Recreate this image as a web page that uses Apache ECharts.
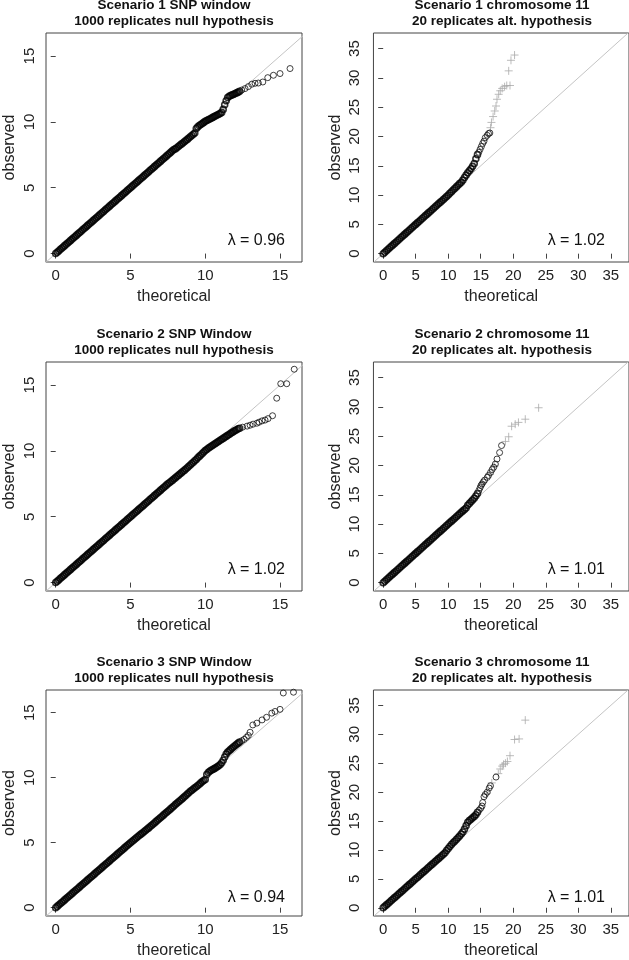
<!DOCTYPE html>
<html><head><meta charset="utf-8">
<script src="https://cdn.jsdelivr.net/npm/echarts@6/dist/echarts.min.js"></script>
<style>html,body{margin:0;padding:0;background:#fff}#c{width:629px;height:960px}</style>
</head><body><div id="c"></div>
<script>
// ---------- data ----------
const panelTitles = [
  ["Scenario 1 SNP window", "1000 replicates null hypothesis"],
  ["Scenario 1 chromosome 11", "20 replicates alt. hypothesis"],
  ["Scenario 2 SNP Window", "1000 replicates null hypothesis"],
  ["Scenario 2 chromosome 11", "20 replicates alt. hypothesis"],
  ["Scenario 3 SNP Window", "1000 replicates null hypothesis"],
  ["Scenario 3 chromosome 11", "20 replicates alt. hypothesis"]
];
const lambdas = ["0.96", "1.02", "1.02", "1.01", "0.94", "1.01"];
const ticksLeft = [0, 5, 10, 15];
const ticksRight = [0, 5, 10, 15, 20, 25, 30, 35];

// dense part, null-hypothesis panels (theoretical -log10 p)
const theoLeft = [0,0.1,0.2,0.3,0.4,0.5,0.6,0.7,0.8,0.9,1,1.1,1.2,1.3,1.4,1.5,1.6,1.7,1.8,1.9,2,2.1,2.2,2.3,2.4,2.5,2.6,2.7,2.8,2.9,3,3.1,3.2,3.3,3.4,3.5,3.6,3.7,3.8,3.9,4,4.1,4.2,4.3,4.4,4.5,4.6,4.7,4.8,4.9,5,5.1,5.2,5.3,5.4,5.5,5.6,5.7,5.8,5.9,6,6.1,6.2,6.3,6.4,6.5,6.6,6.7,6.8,6.9,7,7.1,7.2,7.3,7.4,7.5,7.6,7.7,7.8,7.9,8,8.1,8.2,8.3,8.4,8.5,8.6,8.7,8.8,8.9,9,9.1,9.2,9.3,9.4,9.5,9.6,9.7,9.8,9.9,10,10.1,10.2,10.3,10.4,10.5,10.6,10.7,10.8,10.9,11,11.1,11.2,11.3,11.4,11.5,11.6,11.7,11.8,11.9,12,12.1,12.2,12.3];
const obsLeft1 = [0,0.1,0.2,0.3,0.4,0.5,0.6,0.7,0.8,0.9,1,1.1,1.2,1.3,1.4,1.5,1.6,1.7,1.8,1.9,2,2.1,2.2,2.3,2.4,2.5,2.6,2.7,2.8,2.9,3,3.1,3.2,3.3,3.4,3.5,3.6,3.7,3.8,3.9,4,4.1,4.2,4.3,4.4,4.5,4.6,4.7,4.8,4.9,5,5.1,5.2,5.3,5.4,5.5,5.6,5.7,5.8,5.9,6,6.1,6.2,6.3,6.4,6.5,6.6,6.7,6.8,6.9,7,7.1,7.2,7.3,7.4,7.5,7.6,7.7,7.8,7.9,7.95,8.04,8.13,8.22,8.31,8.4,8.49,8.58,8.67,8.77,8.87,8.97,9.06,9.15,9.5,9.62,9.72,9.8,9.88,9.96,10.04,10.1,10.16,10.22,10.28,10.34,10.4,10.46,10.52,10.58,10.64,10.72,10.95,11.3,11.6,11.85,11.95,12,12.05,12.1,12.15,12.2,12.26,12.32];
const obsLeft2 = [0,0.1,0.2,0.3,0.4,0.5,0.6,0.7,0.8,0.9,1,1.1,1.2,1.3,1.4,1.5,1.6,1.7,1.8,1.9,2,2.1,2.2,2.3,2.4,2.5,2.6,2.7,2.8,2.9,3,3.1,3.2,3.3,3.4,3.5,3.6,3.7,3.8,3.9,4,4.1,4.2,4.3,4.4,4.5,4.6,4.7,4.8,4.9,5,5.1,5.2,5.3,5.4,5.5,5.6,5.7,5.8,5.9,6,6.1,6.2,6.3,6.4,6.5,6.6,6.7,6.8,6.9,7,7.1,7.2,7.3,7.4,7.5,7.58,7.67,7.76,7.86,7.95,8.05,8.14,8.24,8.33,8.43,8.52,8.62,8.72,8.83,8.93,9.04,9.14,9.25,9.35,9.47,9.58,9.69,9.8,9.91,10.02,10.11,10.2,10.28,10.35,10.43,10.5,10.58,10.65,10.73,10.8,10.88,10.95,11.03,11.1,11.18,11.25,11.33,11.4,11.48,11.55,11.61,11.68,11.72];
const obsLeft3 = [0,0.1,0.2,0.3,0.4,0.5,0.6,0.7,0.8,0.9,1,1.1,1.2,1.3,1.4,1.5,1.6,1.7,1.8,1.9,2,2.1,2.2,2.3,2.4,2.5,2.6,2.7,2.8,2.9,3,3.1,3.2,3.3,3.4,3.5,3.6,3.7,3.8,3.9,4,4.1,4.2,4.3,4.4,4.5,4.6,4.7,4.8,4.9,5,5.09,5.19,5.28,5.38,5.47,5.57,5.66,5.75,5.84,5.93,6.03,6.12,6.22,6.32,6.42,6.52,6.62,6.72,6.82,6.92,7.02,7.12,7.22,7.32,7.42,7.52,7.62,7.72,7.82,7.93,8.03,8.13,8.23,8.33,8.43,8.53,8.63,8.74,8.84,8.95,9.04,9.13,9.22,9.31,9.4,9.5,9.6,9.7,9.78,9.86,10.25,10.4,10.5,10.58,10.63,10.7,10.76,10.84,10.92,11.02,11.15,11.35,11.6,11.82,11.98,12.08,12.18,12.28,12.38,12.48,12.57,12.66,12.74];

// upper tails, null-hypothesis panels
const tailTheo1 = [12.44,12.66,12.88,13.11,13.33,13.55,13.85,14.18,14.56,15.0,15.67];
const tailObs1  = [12.42,12.53,12.68,12.86,12.93,12.95,13.03,13.36,13.54,13.67,14.05];
const tailTheo2 = [12.5,12.8,13.0,13.2,13.45,13.6,13.8,14.0,14.2,14.5,14.78,15.05,15.45,15.95];
const tailObs2  = [11.8,11.88,11.95,12.03,12.1,12.18,12.28,12.34,12.45,12.67,14.0,15.1,15.1,16.2];
const tailTheo3 = [12.45,12.6,12.75,12.88,13.0,13.18,13.45,13.8,14.1,14.45,14.67,15.0,15.22,15.9];
const tailObs3  = [12.85,12.95,13.1,13.25,13.5,14.06,14.2,14.45,14.65,14.97,15.1,15.26,16.52,16.58];

// dense part, chromosome 11 panels
const theoRight = [0,0.25,0.5,0.75,1,1.25,1.5,1.75,2,2.25,2.5,2.75,3,3.25,3.5,3.75,4,4.25,4.5,4.75,5,5.25,5.5,5.75,6,6.25,6.5,6.75,7,7.25,7.5,7.75,8,8.25,8.5,8.75,9,9.25,9.5,9.75,10,10.25,10.5,10.75,11,11.25,11.5,11.75,12,12.25,12.5,12.75,13,13.25,13.5,13.75,14,14.25,14.5];
const obsRight1 = [0,0.25,0.5,0.75,1,1.25,1.5,1.75,2,2.25,2.5,2.75,3,3.25,3.5,3.75,4,4.25,4.5,4.75,5,5.25,5.5,5.75,6,6.25,6.5,6.75,7,7.25,7.5,7.75,8,8.25,8.5,8.75,9,9.25,9.5,9.75,10.02,10.3,10.58,10.85,11.12,11.4,11.68,11.95,12.2,12.55,13.0,13.4,13.8,14.15,14.5,14.9,15.4,16.2,16.9];
const obsRight2 = [0,0.25,0.5,0.75,1,1.25,1.5,1.75,2,2.25,2.5,2.75,3,3.25,3.5,3.75,4,4.25,4.5,4.75,5,5.25,5.5,5.75,6,6.25,6.5,6.75,7,7.25,7.5,7.75,8,8.25,8.5,8.75,9,9.25,9.5,9.75,10,10.25,10.5,10.75,11,11.25,11.5,11.75,12,12.25,12.5,12.75,13.2,13.5,13.8,14.1,14.4,14.8,15.2];
const obsRight3 = [0,0.25,0.5,0.75,1,1.25,1.5,1.75,2,2.25,2.5,2.75,3,3.25,3.5,3.75,4,4.25,4.5,4.75,5,5.25,5.5,5.75,6,6.25,6.5,6.75,7,7.25,7.5,7.75,8,8.25,8.5,8.75,9,9.25,9.5,9.9,10.25,10.6,10.95,11.25,11.5,11.8,12.1,12.4,12.75,13.1,13.6,14.2,14.8,15.1,15.3,15.55,15.8,16.1,16.5];

// upper tails (circles), chromosome 11 panels
const rTailTheo1 = [14.7,14.9,15.1,15.3,15.5,15.7,16.0,16.2,16.4];
const rTailObs1  = [17.3,17.8,18.3,18.8,19.2,19.8,20.2,20.5,20.6];
const rTailTheo2 = [14.7,14.9,15.05,15.2,15.4,15.6,16.0,16.2,16.5,16.75,17.0,17.25,17.5,17.9,18.2];
const rTailObs2  = [15.7,16.2,16.6,16.85,17.2,17.5,17.97,18.3,18.8,19.3,19.7,20.25,21.1,22.2,23.4];
const rTailTheo3 = [14.75,15.0,15.2,15.3,15.5,15.7,16.0,16.3,16.5,17.35];
const rTailObs3  = [16.9,17.2,17.6,18.2,19.2,19.6,20.0,20.7,21.1,22.6];

// grey "+" points, chromosome 11 panels
const plusTheo1 = [16.5,16.65,16.9,17.15,17.35,17.5,17.76,18.0,18.3,18.67,19.0,19.5,19.3,19.65,20.2];
const plusObs1  = [21.5,22.4,23.4,24.35,25.2,26.35,27.2,27.8,28.2,28.5,28.7,28.7,31.2,33.0,33.9];
const plusTheo2 = [16.4,17.1,18.8,19.3,19.75,20.3,20.8,21.85,23.9];
const plusObs2  = [18.5,19.9,24.1,24.9,26.7,27.05,27.35,27.9,29.85];
const plusTheo3 = [15.9,16.7,17.7,18.0,18.3,18.5,18.8,19.1,19.5,20.2,20.9,21.85];
const plusObs3  = [19.8,21.6,23.2,24.0,24.5,24.8,25.0,25.3,26.3,29.1,29.2,32.45];

// ---------- layout / styling ----------
const FF = "'Liberation Sans', Arial, Helvetica, sans-serif";
const zip = (a, b) => a.map((v, i) => [v, b[i]]);
const rowTop = [33, 362, 690];
const GH = 229;
const col = [
  {left: 46, width: 256, xmin: -0.649, xmax: 16.47, ymin: -0.64, ymax: 16.75, ticks: ticksLeft, ylm: 9, yng: 28},
  {left: 373.44, width: 258.2, xmin: -1.5, xmax: 37.8, ymin: -1.42, ymax: 37.66, ticks: ticksRight, ylm: 11, yng: 30}
];

const dense = [[theoLeft, obsLeft1], [theoRight, obsRight1], [theoLeft, obsLeft2], [theoRight, obsRight2], [theoLeft, obsLeft3], [theoRight, obsRight3]];
const tails = [[tailTheo1, tailObs1], [rTailTheo1, rTailObs1], [tailTheo2, tailObs2], [rTailTheo2, rTailObs2], [tailTheo3, tailObs3], [rTailTheo3, rTailObs3]];
const pluses = [null, [plusTheo1, plusObs1], null, [plusTheo2, plusObs2], null, [plusTheo3, plusObs3]];

const grids = [], xAxes = [], yAxes = [], series = [], graphics = [];
for (let i = 0; i < 6; i++) {
  const c = col[i % 2], top = rowTop[Math.floor(i / 2)];
  grids.push({left: c.left, top: top, width: c.width, height: GH, show: true, borderColor: '#444', borderWidth: 1, backgroundColor: 'transparent'});
  const common = {
    gridIndex: i, type: 'value', splitLine: {show: false}, axisLine: {show: false},
    nameLocation: 'middle', nameTextStyle: {fontSize: 16, color: '#222', fontFamily: FF}
  };
  xAxes.push(Object.assign({}, common, {
    min: c.xmin, max: c.xmax, name: 'theoretical', nameGap: 27,
    axisTick: {show: true, inside: false, length: 5, customValues: c.ticks, lineStyle: {color: '#444'}},
    axisLabel: {customValues: c.ticks, margin: 6, fontSize: 15, color: '#222', fontFamily: FF}
  }));
  yAxes.push(Object.assign({}, common, {
    min: c.ymin, max: c.ymax, name: 'observed', nameGap: c.yng,
    axisTick: {show: true, inside: false, length: 5, customValues: c.ticks, lineStyle: {color: '#444'}},
    axisLabel: {customValues: c.ticks, rotate: 90, margin: c.ylm, fontSize: 15, color: '#222', fontFamily: FF}
  }));
  // y = x reference line
  series.push({type: 'line', xAxisIndex: i, yAxisIndex: i, data: [[-5, -5], [45, 45]], symbol: 'none', silent: true, clip: true,
    lineStyle: {color: '#c4c4c4', width: 1}, z: 1});
  // dense mass of observed points
  series.push({type: 'scatter', xAxisIndex: i, yAxisIndex: i, data: zip(dense[i][0], dense[i][1]), symbol: 'circle', symbolSize: 6, clip: true,
    itemStyle: {color: 'rgba(0,0,0,0)', borderColor: '#000', borderWidth: 1.6}, z: 3});
  // sparse upper tail (open circles)
  series.push({type: 'scatter', xAxisIndex: i, yAxisIndex: i, data: zip(tails[i][0], tails[i][1]), symbol: 'circle', symbolSize: 6, clip: true,
    itemStyle: {color: 'rgba(0,0,0,0)', borderColor: '#111', borderWidth: 1}, z: 3});
  if (pluses[i]) {
    series.push({type: 'scatter', xAxisIndex: i, yAxisIndex: i, data: zip(pluses[i][0], pluses[i][1]),
      symbol: 'path://M0,5L10,5M5,0L5,10', symbolSize: 8, clip: true,
      itemStyle: {color: 'rgba(0,0,0,0)', borderColor: '#aaa', borderWidth: 1}, z: 2});
  }
  const tcx = (i % 2 === 0) ? 174 : 502;
  graphics.push({type: 'text', x: tcx, y: top - 27.3, style: {text: panelTitles[i][0], font: 'bold 13.5px ' + FF, fill: '#111', align: 'center', verticalAlign: 'middle', textAlign: 'center', textVerticalAlign: 'middle'}});
  graphics.push({type: 'text', x: tcx, y: top - 11.5, style: {text: panelTitles[i][1], font: 'bold 13.5px ' + FF, fill: '#111', align: 'center', verticalAlign: 'middle', textAlign: 'center', textVerticalAlign: 'middle'}});
  const lx = (i % 2 === 0) ? 285 : 605;
  graphics.push({type: 'text', x: lx, y: top + GH - 21, style: {text: 'λ = ' + lambdas[i], font: '16px ' + FF, fill: '#111', align: 'right', verticalAlign: 'middle', textAlign: 'right', textVerticalAlign: 'middle'}});
}

const chart = echarts.init(document.getElementById('c'), null, {renderer: 'canvas'});
chart.setOption({
  animation: false,
  backgroundColor: '#fff',
  grid: grids, xAxis: xAxes, yAxis: yAxes, series: series, graphic: graphics
});
</script></body></html>
